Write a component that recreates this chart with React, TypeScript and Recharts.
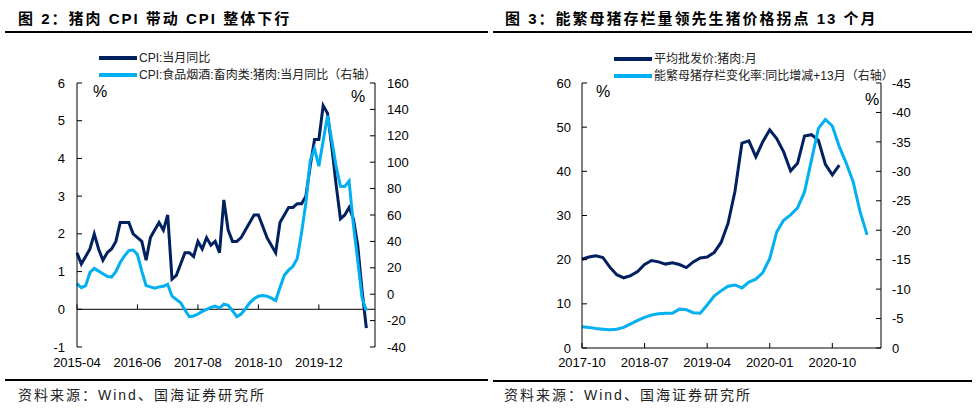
import React from "react";
import { LineChart, Line, XAxis, YAxis, ReferenceLine } from "recharts";

const FONT = '"Liberation Sans", Arial, "Noto Sans CJK SC", sans-serif';
const DARK = "#002060";
const LIGHT = "#00B0F0";

// month labels like "2015-04"
function months(start: string, count: number) {
  const [y0, m0] = start.split("-").map(Number);
  const out: string[] = [];
  for (let i = 0; i < count; i++) {
    const t = y0 * 12 + (m0 - 1) + i;
    const y = Math.floor(t / 12);
    const m = (t % 12) + 1;
    out.push(`${y}-${m < 10 ? "0" + m : m}`);
  }
  return out;
}

// ---- figure 2 ----
const LEFT_MONTHS = months("2015-04", 70);
const LEFT_TICKS = ["2015-04", "2016-06", "2017-08", "2018-10", "2019-12"];
const CPI_YOY = [
  1.5, 1.2, 1.4, 1.6, 2.0, 1.6, 1.3, 1.5, 1.6,
  1.8, 2.3, 2.3, 2.3, 2.0, 1.9, 1.8, 1.3, 1.9, 2.1, 2.3, 2.1,
  2.5, 0.8, 0.9, 1.2, 1.5, 1.5, 1.4, 1.8, 1.6, 1.9, 1.7, 1.8,
  1.5, 2.9, 2.1, 1.8, 1.8, 1.9, 2.1, 2.3, 2.5, 2.5, 2.2, 1.9,
  1.7, 1.5, 2.3, 2.5, 2.7, 2.7, 2.8, 2.8, 3.0, 3.8, 4.5, 4.5,
  5.4, 5.2, 4.3, 3.3, 2.4, 2.5, 2.7, 2.4, 1.7, 0.5, -0.5,
];
const PORK_YOY = [
  8, 5, 6.5, 16.5, 19.5, 17.5, 15.5, 13.5, 13,
  17, 24, 29, 33, 33.5, 30, 17.5, 6.5, 5.5, 4.5, 5.5, 6,
  7.5, -1.5, -4, -6.5, -12, -17, -16.5, -15, -13, -11.5, -10, -9,
  -10.5, -7.5, -8.5, -12.5, -17, -15, -11, -6.5, -3.5, -1.5, -1, -1.5,
  -3, -4.8, 5.1, 14.4, 18.2, 21.1, 27, 46.7, 69.3, 101.3, 110.2, 97,
  116, 135.2, 116.4, 96.9, 81.7, 81.6, 85.7, 52.6, 25.5, -2.8, -12.5,
];
const LEFT_Y_TICKS = [-1, 0, 1, 2, 3, 4, 5, 6];
const LEFT_Y2_TICKS = [-40, -20, 0, 20, 40, 60, 80, 100, 120, 140, 160];
const LEFT_NAMES = ["CPI:当月同比", "CPI:食品烟酒:畜肉类:猪肉:当月同比（右轴）"];

// ---- figure 3 ----
const RIGHT_MONTHS = months("2017-10", 44);
const RIGHT_TICKS = ["2017-10", "2018-07", "2019-04", "2020-01", "2020-10"];
const PORK_PRICE = [
  20.1, 20.6, 20.9, 20.5, 18.3, 16.6, 15.9, 16.4, 17.3, 18.9, 19.8, 19.5,
  19.0, 19.3, 18.9, 18.2, 19.5, 20.4, 20.6, 21.6, 23.9, 28.2, 35.5, 46.4,
  46.9, 43.3, 46.7, 49.4, 47.4, 44.4, 40.1, 41.8, 48.0, 48.3, 47.0, 41.6,
  39.2, 41.4,
];
const SOW_CHANGE = [
  -3.6, -3.5, -3.3, -3.2, -3.1, -3.2, -3.5, -4.1, -4.7, -5.2, -5.6, -5.8,
  -5.9, -5.9, -6.6, -6.5, -6.0, -5.9, -7.3, -8.8, -9.7, -10.5, -10.7, -10.2,
  -11.2, -11.7, -12.8, -15.2, -19.7, -21.7, -22.6, -23.8, -26.5, -31.9, -37.3, -38.8,
  -37.7, -34.2, -31.4, -28.2, -23.1, -19.2,
];
const RIGHT_Y_TICKS = [0, 10, 20, 30, 40, 50, 60];
const RIGHT_Y2_TICKS = [-45, -40, -35, -30, -25, -20, -15, -10, -5, 0];
const RIGHT_NAMES = ["平均批发价:猪肉:月", "能繁母猪存栏变化率:同比增减+13月（右轴）"];

const leftData = LEFT_MONTHS.map((m, i) => ({
  month: m,
  cpi: i < CPI_YOY.length ? CPI_YOY[i] : null,
  pork: i < PORK_YOY.length ? PORK_YOY[i] : null,
}));

const rightData = RIGHT_MONTHS.map((m, i) => ({
  month: m,
  price: i < PORK_PRICE.length ? PORK_PRICE[i] : null,
  sow: i < SOW_CHANGE.length ? SOW_CHANGE[i] : null,
}));

const tickStyle = { fill: "#000", fontSize: 13, fontFamily: FONT };
const abs = (left: number, top: number, extra: React.CSSProperties = {}): React.CSSProperties => ({
  position: "absolute",
  left,
  top,
  whiteSpace: "nowrap",
  ...extra,
});

function LegendBox({ left, top, names }: { left: number; top: number; names: string[] }) {
  const colors = [DARK, LIGHT];
  return (
    <div style={abs(left, top, { fontSize: 12, fontFamily: FONT, color: "#222", lineHeight: "17px" })}>
      {names.map((n, i) => (
        <div key={n}>
          <span
            style={{
              display: "inline-block",
              width: 38,
              height: 4,
              background: colors[i],
              verticalAlign: "middle",
              marginRight: 2,
              marginTop: -2,
            }}
          />
          {n}
        </div>
      ))}
    </div>
  );
}

const pct = (left: number, top: number) => (
  <div style={abs(left, top, { fontSize: 16, fontFamily: FONT, lineHeight: "18px", color: "#000" })}>%</div>
);

const titleStyle: React.CSSProperties = {
  fontSize: 15,
  fontWeight: "bold",
  fontFamily: '"Liberation Sans", "Noto Sans CJK SC", sans-serif',
  letterSpacing: 2,
  lineHeight: "20px",
  color: "#000",
};
const sourceStyle: React.CSSProperties = {
  fontSize: 14,
  fontFamily: '"Liberation Sans", "Noto Sans CJK SC", sans-serif',
  letterSpacing: 2,
  lineHeight: "20px",
  color: "#222",
};
const rule = (left: number, top: number, width: number) => (
  <div style={abs(left, top, { width, height: 1.5, background: "#000" })} />
);

export default function App() {
  return (
    <div
      style={{
        position: "fixed",
        left: 0,
        top: 0,
        width: 979,
        height: 409,
        background: "#fff",
        overflow: "hidden",
      }}
    >
      <div style={abs(18, 9, titleStyle)}>图 2：猪肉 CPI 带动 CPI 整体下行</div>
      <div style={abs(505, 9, titleStyle)}>图 3：能繁母猪存栏量领先生猪价格拐点 13 个月</div>
      {rule(5, 31, 483)}
      {rule(493, 31, 479)}
      {rule(5, 379, 483)}
      {rule(493, 380, 479)}
      <div style={abs(18, 385, sourceStyle)}>资料来源：Wind、国海证券研究所</div>
      <div style={abs(504, 385, sourceStyle)}>资料来源：Wind、国海证券研究所</div>

      <div style={abs(0, 0)}>
        <LineChart width={490} height={409} data={leftData} margin={{ top: 83, right: 70, bottom: 32, left: 37 }}>
          <XAxis
            dataKey="month"
            ticks={LEFT_TICKS}
            interval={0}
            axisLine={false}
            tickLine={false}
            tickSize={0}
            tickMargin={11}
            height={30}
            tick={tickStyle}
          />
          <YAxis
            yAxisId="left"
            domain={[-1, 6]}
            ticks={LEFT_Y_TICKS}
            width={40}
            axisLine={{ stroke: "#000" }}
            tickLine={{ stroke: "#000" }}
            tickSize={-5}
            tickMargin={17}
            tick={tickStyle}
          />
          <YAxis
            yAxisId="right"
            orientation="right"
            domain={[-40, 160]}
            ticks={LEFT_Y2_TICKS}
            width={45}
            axisLine={{ stroke: "#000" }}
            tickLine={{ stroke: "#000" }}
            tickSize={-5}
            tickMargin={17}
            tick={tickStyle}
          />
          <ReferenceLine yAxisId="left" y={0} stroke="#000" />
          {LEFT_TICKS.map((m) => (
            <ReferenceLine
              key={m}
              yAxisId="left"
              segment={[
                { x: m, y: 0 },
                { x: m, y: 0.13 },
              ]}
              stroke="#000"
            />
          ))}
          <Line yAxisId="left" dataKey="cpi" stroke={DARK} strokeWidth={3} dot={false} isAnimationActive={false} />
          <Line yAxisId="right" dataKey="pork" stroke={LIGHT} strokeWidth={3} dot={false} isAnimationActive={false} />
        </LineChart>
      </div>

      <div style={abs(490, 0)}>
        <LineChart width={489} height={409} data={rightData} margin={{ top: 83, right: 53, bottom: 31, left: 52 }}>
          <XAxis
            dataKey="month"
            ticks={RIGHT_TICKS}
            interval={0}
            axisLine={{ stroke: "#000" }}
            tickLine={{ stroke: "#000" }}
            tickSize={-5}
            tickMargin={15}
            height={30}
            tick={tickStyle}
          />
          <YAxis
            yAxisId="left"
            domain={[0, 60]}
            ticks={RIGHT_Y_TICKS}
            width={40}
            axisLine={{ stroke: "#000" }}
            tickLine={{ stroke: "#000" }}
            tickSize={-5}
            tickMargin={16}
            tick={tickStyle}
          />
          <YAxis
            yAxisId="right"
            orientation="right"
            domain={[-45, 0]}
            reversed
            ticks={RIGHT_Y2_TICKS}
            width={45}
            axisLine={{ stroke: "#000" }}
            tickLine={{ stroke: "#000" }}
            tickSize={-5}
            tickMargin={16}
            tick={tickStyle}
          />
          <Line yAxisId="left" dataKey="price" stroke={DARK} strokeWidth={3} dot={false} isAnimationActive={false} />
          <Line yAxisId="right" dataKey="sow" stroke={LIGHT} strokeWidth={3} dot={false} isAnimationActive={false} />
        </LineChart>
      </div>

      <LegendBox left={99} top={50} names={LEFT_NAMES} />
      <LegendBox left={614} top={51} names={RIGHT_NAMES} />
      {pct(93, 83)}
      {pct(351, 88)}
      {pct(596, 83)}
      {pct(865, 91)}
    </div>
  );
}
